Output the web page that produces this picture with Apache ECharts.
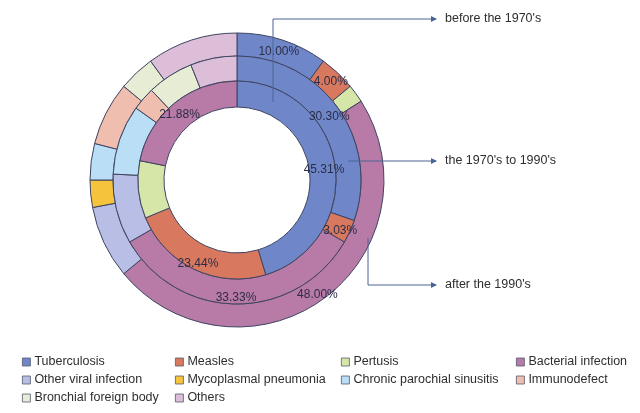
<!DOCTYPE html>
<html>
<head>
<meta charset="utf-8">
<script src="https://cdn.jsdelivr.net/npm/echarts@6/dist/echarts.min.js"></script>
<style>
html,body{margin:0;padding:0;background:#fff;}
#c{width:640px;height:413px;}
</style>
</head>
<body>
<div id="c"></div>
<script>
var categories = ['Tuberculosis','Measles','Pertusis','Bacterial infection','Other viral infection','Mycoplasmal pneumonia','Chronic parochial sinusitis','Immunodefect','Bronchial foreign body','Others'];
var colors = ['#6f87c9','#d8785f','#d6e6a8','#b87aa6','#b9bee6','#f5c33c','#b9def5','#efbeae','#e7ecd4','#dcbed8'];
// before the 1970's (outer ring), percent
var beforeValues = [10, 4, 2, 48, 8, 3, 4, 7, 4, 10];
// the 1970's to 1990's (middle ring), cases
var middleValues = [10, 1, 0, 11, 3, 0, 3, 1, 2, 2];
// after the 1990's (inner ring), cases
var afterValues = [29, 15, 6, 14, 0, 0, 0, 0, 0, 0];
var labeled = ['Tuberculosis','Measles','Bacterial infection'];
var ringNames = ["before the 1970's", "the 1970's to 1990's", "after the 1990's"];

var chart = echarts.init(document.getElementById('c'));
function makeData(vals){
  var d = [];
  for (var i = 0; i < categories.length; i++) {
    if (vals[i] > 0) d.push({name: categories[i], value: vals[i], itemStyle: {color: colors[i]}});
  }
  return d;
}
function ring(name, vals, r0, r1){
  var total = vals.reduce(function(a, b){ return a + b; }, 0);
  return {
    type: 'pie', name: name, center: [237, 180], radius: [r0, r1],
    startAngle: 90, clockwise: true, avoidLabelOverlap: false, silent: true,
    itemStyle: {borderColor: '#3e4360', borderWidth: 1},
    label: {
      show: true, position: 'inside', color: '#2b2d48', fontSize: 12, offset: [-1, 3],
      fontFamily: 'Liberation Sans, Arial, sans-serif',
      formatter: function(p){ return labeled.indexOf(p.name) >= 0 ? (p.value / total * 100).toFixed(2) + '%' : ''; }
    },
    labelLine: {show: false},
    emphasis: {disabled: true},
    data: makeData(vals)
  };
}
var legendCols = [[0,4,8],[1,5,9],[2,6],[3,7]];
var legendLeft = [22, 175, 341, 516];
var legends = legendCols.map(function(col, k){
  return {
    orient: 'vertical', left: legendLeft[k], top: 353, padding: 0, itemGap: 0,
    itemWidth: 8, itemHeight: 8, icon: 'rect', selectedMode: false,
    itemStyle: {borderColor: '#555a6e', borderWidth: 0.8},
    textStyle: {fontSize: 12.5, color: '#2e2e2e', lineHeight: 18, fontFamily: 'Liberation Sans, Arial, sans-serif', padding: [0,0,0,-1]},
    data: col.map(function(i){ return categories[i]; })
  };
});
var lineColor = '#4a6594';
function arrowHead(x, y){
  return {type: 'polygon', z: 100, shape: {points: [[x-6, y-3], [x, y], [x-6, y+3]]}, style: {fill: lineColor}};
}
function label(txt, y){
  return {type: 'text', z: 100, x: 445, y: y, style: {text: txt, fill: '#2e2e2e', font: '12.5px "Liberation Sans", Arial, sans-serif', textVerticalAlign: 'middle'}};
}
chart.setOption({
  animation: false,
  legend: legends,
  series: [
    ring(ringNames[0], beforeValues, 124, 147),
    ring(ringNames[1], middleValues, 99, 124),
    ring(ringNames[2], afterValues, 73, 99)
  ],
  graphic: [
    {type: 'polyline', z: 100, shape: {points: [[273, 102], [273, 19], [436, 19]]}, style: {stroke: lineColor, lineWidth: 1, fill: null}},
    arrowHead(437, 19),
    {type: 'polyline', z: 100, shape: {points: [[348, 161], [436, 161]]}, style: {stroke: lineColor, lineWidth: 1, fill: null}},
    arrowHead(437, 161),
    {type: 'polyline', z: 100, shape: {points: [[368, 238], [368, 285], [436, 285]]}, style: {stroke: lineColor, lineWidth: 1, fill: null}},
    arrowHead(437, 285),
    label(ringNames[0], 19),
    label(ringNames[1], 161),
    label(ringNames[2], 285)
  ]
});
</script>
</body>
</html>
